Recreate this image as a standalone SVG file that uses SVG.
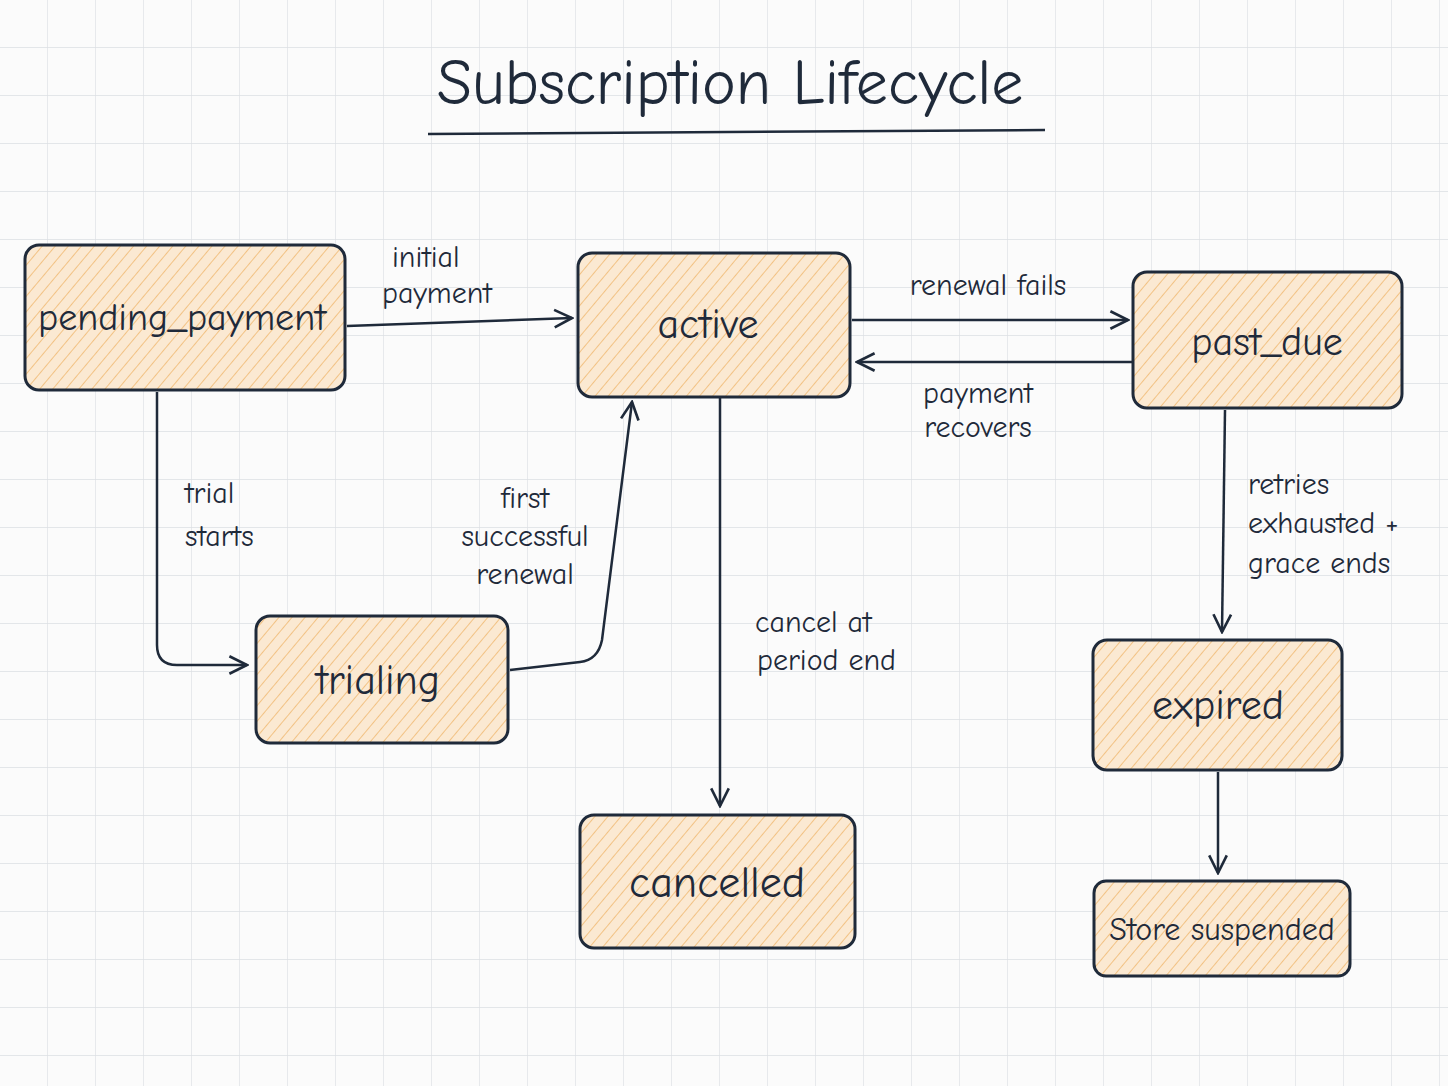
<svg xmlns="http://www.w3.org/2000/svg" width="1448" height="1086" viewBox="0 0 1448 1086">
<defs>
<pattern id="grid" width="48" height="48" patternUnits="userSpaceOnUse"><path d="M48 0V48H0" fill="none" stroke="#dcdfe3" stroke-width="1.3"/></pattern>
<pattern id="hatch" width="10" height="10" patternUnits="userSpaceOnUse" patternTransform="rotate(40)"><rect width="10" height="10" fill="#fbe9d2"/><line x1="0" y1="0" x2="0" y2="10" stroke="#f0b870" stroke-width="1.6"/></pattern>
<marker id="arr" viewBox="0 0 20 20" refX="18" refY="10" markerWidth="22" markerHeight="22" markerUnits="userSpaceOnUse" orient="auto"><path d="M2 2L18 10L2 18" fill="none" stroke="#1f2a3a" stroke-width="2.4"/></marker>
<style>
.n{fill:url(#hatch);stroke:#1f2a3a;stroke-width:3}
.t{font-family:"Comic Neue","Liberation Sans",sans-serif;fill:#1f2a3a;text-anchor:middle}
.l{font-family:"Comic Neue","Liberation Sans",sans-serif;fill:#1f2a3a;font-size:30px}
.c{fill:none;stroke:#1f2a3a;stroke-width:2.5;marker-end:url(#arr)}
</style>
</defs>
<rect width="1448" height="1086" fill="#fbfbfb"/>
<rect width="1448" height="1086" fill="url(#grid)"/>
<g id="title"><text class="t" x="730" y="104" font-size="64">Subscription Lifecycle</text><path d="M428 134L1045 130" stroke="#1f2a3a" stroke-width="2.5"/></g>
<g id="pending_payment"><rect class="n" x="25" y="245" width="320" height="145" rx="14"/><text class="t" x="182" y="330" font-size="38">pending_payment</text></g>
<g id="active"><rect class="n" x="578" y="253" width="272" height="144" rx="14"/><text class="t" x="708" y="338" font-size="42">active</text></g>
<g id="past_due"><rect class="n" x="1133" y="272" width="269" height="136" rx="14"/><text class="t" x="1267" y="355" font-size="40">past_due</text></g>
<g id="trialing"><rect class="n" x="256" y="616" width="252" height="127" rx="14"/><text class="t" x="378" y="694" font-size="42">trialing</text></g>
<g id="cancelled"><rect class="n" x="580" y="815" width="275" height="133" rx="14"/><text class="t" x="717" y="897" font-size="44">cancelled</text></g>
<g id="expired"><rect class="n" x="1093" y="640" width="249" height="130" rx="14"/><text class="t" x="1218" y="719" font-size="42">expired</text></g>
<g id="store_suspended"><rect class="n" x="1094" y="881" width="256" height="95" rx="12"/><text class="t" x="1222" y="940" font-size="32">Store suspended</text></g>
<g id="connectors">
<path class="c" d="M347 326L572 318"/>
<path class="c" d="M157 392V645Q157 665 177 665H247"/>
<path class="c" d="M510 670L580 662Q598 660 602 640L632 402"/>
<path class="c" d="M720 398V806"/>
<path class="c" d="M852 320H1128"/>
<path class="c" d="M1132 362H857"/>
<path class="c" d="M1225 410L1222 632"/>
<path class="c" d="M1218 772V873"/>
</g>
<g id="labels">
<text class="l" x="392" y="267">initial</text><text class="l" x="382" y="303">payment</text>
<text class="l" x="185" y="503">trial</text><text class="l" x="185" y="546">starts</text>
<text class="l" x="525" y="508" text-anchor="middle">first</text><text class="l" x="525" y="546" text-anchor="middle">successful</text><text class="l" x="525" y="584" text-anchor="middle">renewal</text>
<text class="l" x="755" y="632">cancel at</text><text class="l" x="757" y="670">period end</text>
<text class="l" x="988" y="295" text-anchor="middle">renewal fails</text>
<text class="l" x="978" y="403" text-anchor="middle">payment</text><text class="l" x="978" y="437" text-anchor="middle">recovers</text>
<text class="l" x="1248" y="494">retries</text><text class="l" x="1248" y="533">exhausted +</text><text class="l" x="1248" y="573">grace ends</text>
</g>
</svg>
